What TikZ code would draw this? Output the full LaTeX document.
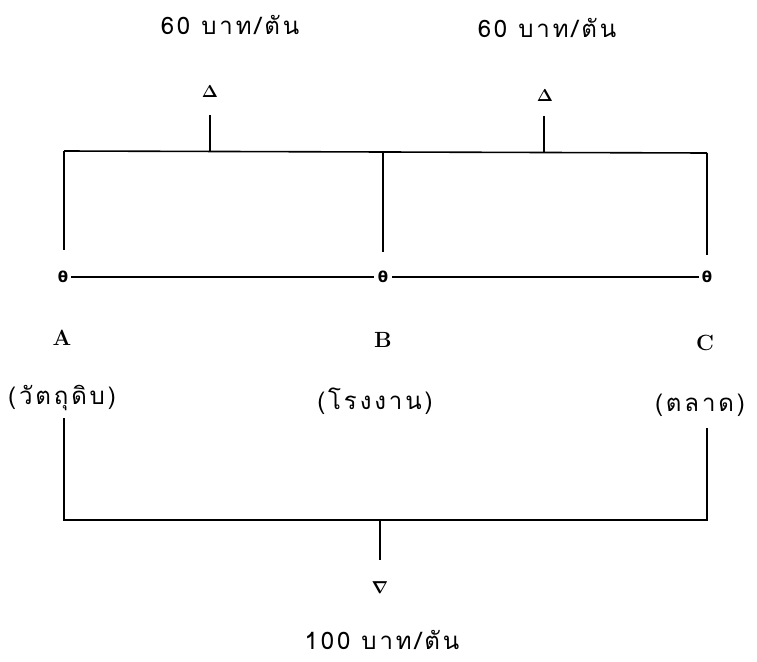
\documentclass[tikz,border=0pt]{standalone}
\usepackage{amsmath}
\usepackage{fontspec}
\newfontfamily\thaifont[Script=Thai,LetterSpace=12]{Loma}
\newfontfamily\dejavu{DejaVu Sans}
\begin{document}
\begin{tikzpicture}[x=1pt,y=-1pt,
  ln/.style={line width=1.6pt},
  price/.style={font=\thaifont\fontsize{24}{26}\selectfont, inner sep=0pt},
  place/.style={font=\thaifont\fontsize{24}{26}\selectfont, inner sep=0pt},
  letter/.style={font=\fontsize{22}{24}\selectfont\bfseries, inner sep=0pt},
  thmark/.style={font=\dejavu\bfseries\fontsize{15}{16}\selectfont, inner sep=0pt},
  tri/.style={font=\fontsize{17}{18}\selectfont, inner sep=0pt}]
\useasboundingbox (0,0) rectangle (757,661);
% top prices
\node[price] (p1) at (230,25) {60 บาท/ตัน};
\node[price] (p2) at (547,28) {60 บาท/ตัน};
\node[tri] (t1) at (210,92) {$\boldsymbol{\Delta}$};
\node[tri] (t2) at (545,96) {$\boldsymbol{\Delta}$};
% coordinates of top frame
\coordinate (s1) at (210,115);
\coordinate (s2) at (544,116);
\coordinate (tl) at (64,151);
\coordinate (tb) at (383,152);
\coordinate (tr) at (707,153);
\coordinate (j1) at (210,151);
\coordinate (j2) at (544,153);
\coordinate (vl) at (64,250);
\coordinate (vb) at (383,252);
\coordinate (vr) at (707,255);
% markers
\node[thmark] (ma) at (63,277) {θ};
\node[thmark] (mb) at (383,277) {θ};
\node[thmark] (mc) at (707,277) {θ};
% letters
\node[letter] (A) at (62,338) {A};
\node[letter] (B) at (383,340) {B};
\node[letter] (C) at (705,343) {C};
% places
\node[place] (a) at (62,398) {(วัตถุดิบ)};
\node[place] (b) at (375,401) {(โรงงาน)};
\node[place] (c) at (700,405) {(ตลาด)};
% bottom frame
\coordinate (bl0) at (64,418);
\coordinate (br0) at (707,428);
\coordinate (bl) at (64,520);
\coordinate (br) at (707,520);
\coordinate (bm) at (380,520);
\coordinate (bs) at (380,560);
\node[tri] (t3) at (380,588) {$\boldsymbol{\nabla}$};
\node[price] (p3) at (382,640) {100 บาท/ตัน};
% lines
\draw[ln] (tl) -- (tr);
\draw[ln] (s1) -- (j1);
\draw[ln] (s2) -- (j2);
\draw[ln] (tl) -- (vl);
\draw[ln] (tb) -- (vb);
\draw[ln] (tr) -- (vr);
\draw[line width=1.2pt] ([xshift=3pt]ma.east) -- ([xshift=-4pt]mb.west);
\draw[line width=1.2pt] ([xshift=4pt]mb.east) -- ([xshift=-3pt]mc.west);
\draw[ln] (bl0) -- (bl) -- (br) -- (br0);
\draw[ln] (bm) -- (bs);
\end{tikzpicture}
\end{document}
